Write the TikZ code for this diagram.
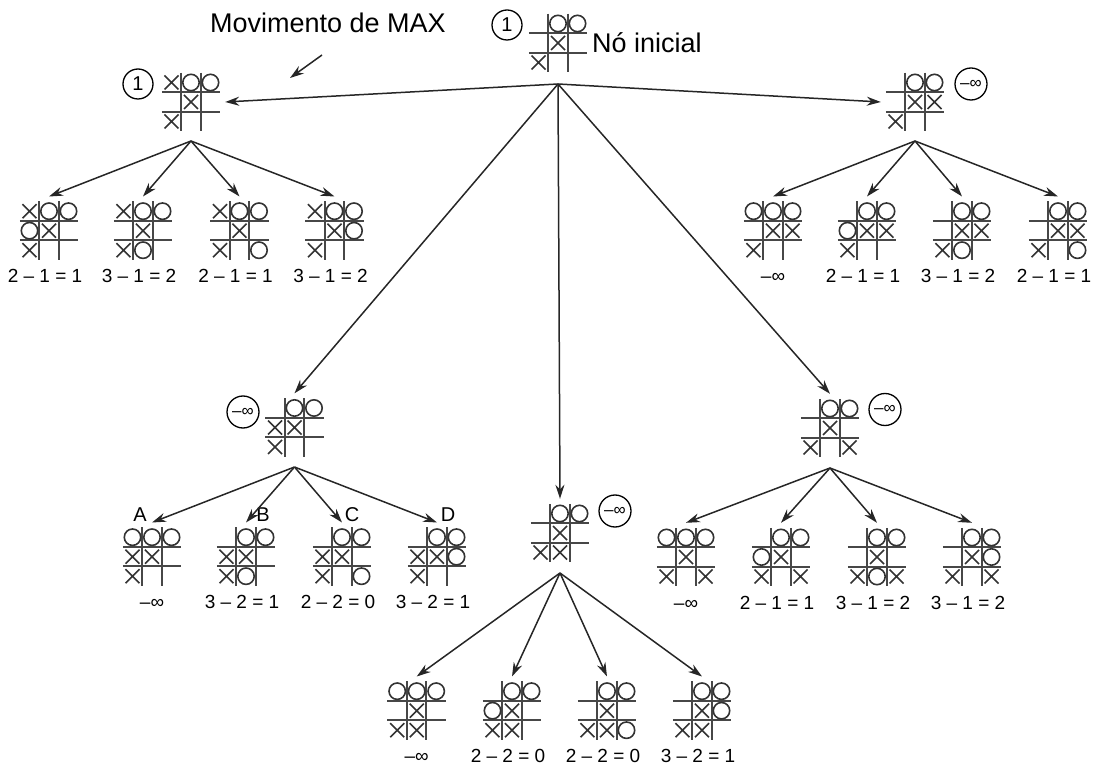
\documentclass[tikz,border=0pt]{standalone}
\usepackage{fontspec}
\setmainfont{Liberation Sans}
\usetikzlibrary{arrows.meta}
\newlength{\du}
\setlength{\du}{1pt}
\tikzset{
  casa/.style={rectangle,minimum width=68\du,minimum height=68\du,inner sep=0pt},
  grade/.style={line width=2\du,black!72},
  marca/.style={line width=1.6\du,black!80},
  seta/.style={line width=1.5\du,black!85,-{Stealth[length=14pt,width=9pt]}},
  valor/.style={circle,draw,line width=1.3\du,minimum size=30\du,inner sep=0pt,font=\fontsize{20}{22}\selectfont},
  infinito/.style={valor,minimum size=32\du,font=\fontsize{17}{19}\selectfont},
  rotulo/.style={anchor=base,inner sep=0pt,font=\fontsize{19}{21}\selectfont},
  letra/.style={inner sep=0pt,font=\fontsize{20}{22}\selectfont},
  titulo/.style={inner sep=0pt,font=\fontsize{27}{30}\selectfont},
  xis/.pic={\draw[marca] (-7\du,-7\du) -- (7\du,7\du) (-7\du,7\du) -- (7\du,-7\du);},
  bola/.pic={\draw[marca] (0,0) circle (8.2\du);}
}
% tabuleiro: nome, x, y, casas com X, casas com O
\newcommand{\jogo}[5]{%
  \node[casa] (#1) at (#2\du,#3\du) {};
  \begin{scope}[shift={(#2\du,#3\du)}]
  \draw[grade] (-29.25\du,-9.75\du) -- (29.25\du,-9.75\du);
  \draw[grade] (-29.25\du,9.75\du) -- (29.25\du,9.75\du);
  \draw[grade] (-9.75\du,-29.25\du) -- (-9.75\du,29.25\du);
  \draw[grade] (9.75\du,-29.25\du) -- (9.75\du,29.25\du);
  \foreach \r/\c in {#4} {\pic at ({(\c-2)*19.5\du},{(\r-2)*19.5\du}) {xis};}
  \foreach \r/\c in {#5} {\pic at ({(\c-2)*19.5\du},{(\r-2)*19.5\du}) {bola};}
  \end{scope}
}

\begin{document}
\begin{tikzpicture}
\pgftransformxscale{1.000000}
\pgftransformyscale{-1.000000}
\useasboundingbox (0\du,0\du) rectangle (1098\du,767\du);
% raiz
\jogo{raiz}{558}{43}{2/2,3/1}{1/2,1/3}
\node[valor] (v-raiz) at (507\du,25\du) {1};
\node[titulo,anchor=west] (ini) at (592\du,43\du) {Nó inicial};
\node[titulo] (mov) at (328\du,22.5\du) {Movimento de MAX};
\coordinate (mov-a) at (322\du,55\du);
\coordinate (mov-b) at (290\du,78\du);
\draw[seta] (mov-a) -- (mov-b);
% primeiro nivel
\jogo{e}{191}{102}{1/1,2/2,3/1}{1/2,1/3}
\node[valor] (v-e) at (138\du,84\du) {1};
\jogo{d}{915}{102}{2/2,2/3,3/1}{1/2,1/3}
\node[infinito] (v-d) at (971\du,84\du) {–∞};
\jogo{me}{294.5}{427.5}{2/1,2/2,3/1}{1/2,1/3}
\node[infinito] (v-me) at (243\du,412\du) {–∞};
\jogo{m}{560}{533}{2/2,3/1,3/2}{1/2,1/3}
\node[infinito] (v-m) at (615\du,511\du) {–∞};
\jogo{md}{830}{428}{2/2,3/1,3/3}{1/2,1/3}
\node[infinito] (v-md) at (885\du,409.5\du) {–∞};
\coordinate (raiz-o) at (558\du,84\du);
\coordinate (e-o) at (191\du,141\du);
\coordinate (d-o) at (915\du,141\du);
\coordinate (me-o) at (294.5\du,467\du);
\coordinate (m-o) at (560\du,573\du);
\coordinate (md-o) at (830\du,468\du);
\draw[seta] (raiz-o) -- (e.east);
\draw[seta] (raiz-o) -- (d.west);
\draw[seta] (raiz-o) -- (me.north);
\draw[seta] (raiz-o) -- (m.north);
\draw[seta] (raiz-o) -- (md.north);
% filhos de e
\jogo{e1}{49}{230.7}{1/1,2/2,3/1}{1/2,1/3,2/1}
\jogo{e2}{143}{230.7}{1/1,2/2,3/1}{1/2,1/3,3/2}
\jogo{e3}{239.5}{230.7}{1/1,2/2,3/1}{1/2,1/3,3/3}
\jogo{e4}{334.5}{230.7}{1/1,2/2,3/1}{1/2,1/3,2/3}
\node[rotulo] (r-e1) at (45\du,282.7\du) {2 – 1 = 1};
\node[rotulo] (r-e2) at (139\du,282.7\du) {3 – 1 = 2};
\node[rotulo] (r-e3) at (235.5\du,282.7\du) {2 – 1 = 1};
\node[rotulo] (r-e4) at (330.5\du,282.7\du) {3 – 1 = 2};
% filhos de d
\jogo{d1}{773}{230.7}{2/2,2/3,3/1}{1/1,1/2,1/3}
\jogo{d2}{867}{230.7}{2/2,2/3,3/1}{1/2,1/3,2/1}
\jogo{d3}{962}{230.7}{2/2,2/3,3/1}{1/2,1/3,3/2}
\jogo{d4}{1058}{230.7}{2/2,2/3,3/1}{1/2,1/3,3/3}
\node[rotulo] (r-d1) at (773\du,282.7\du) {–∞};
\node[rotulo] (r-d2) at (863\du,282.7\du) {2 – 1 = 1};
\node[rotulo] (r-d3) at (958\du,282.7\du) {3 – 1 = 2};
\node[rotulo] (r-d4) at (1054\du,282.7\du) {2 – 1 = 1};
% filhos de me
\jogo{me1}{152}{556.7}{2/1,2/2,3/1}{1/1,1/2,1/3}
\jogo{me2}{246}{556.7}{2/1,2/2,3/1}{1/2,1/3,3/2}
\jogo{me3}{342}{556.7}{2/1,2/2,3/1}{1/2,1/3,3/3}
\jogo{me4}{437}{556.7}{2/1,2/2,3/1}{1/2,1/3,2/3}
\node[rotulo] (r-me1) at (152\du,608.7\du) {–∞};
\node[rotulo] (r-me2) at (242\du,608.7\du) {3 – 2 = 1};
\node[rotulo] (r-me3) at (338\du,608.7\du) {2 – 2 = 0};
\node[rotulo] (r-me4) at (433\du,608.7\du) {3 – 2 = 1};
\node[letra] (la) at (140\du,515\du) {A};
\node[letra] (lb) at (263\du,515\du) {B};
\node[letra] (lc) at (352\du,515\du) {C};
\node[letra] (ld) at (448\du,515\du) {D};
% filhos de m
\jogo{m1}{416.7}{710.7}{2/2,3/1,3/2}{1/1,1/2,1/3}
\jogo{m2}{512}{710.7}{2/2,3/1,3/2}{1/2,1/3,2/1}
\jogo{m3}{607}{710.7}{2/2,3/1,3/2}{1/2,1/3,3/3}
\jogo{m4}{702}{710.7}{2/2,3/1,3/2}{1/2,1/3,2/3}
\node[rotulo] (r-m1) at (416.7\du,762.7\du) {–∞};
\node[rotulo] (r-m2) at (508\du,762.7\du) {2 – 2 = 0};
\node[rotulo] (r-m3) at (603\du,762.7\du) {2 – 2 = 0};
\node[rotulo] (r-m4) at (698\du,762.7\du) {3 – 2 = 1};
% filhos de md
\jogo{md1}{686}{557}{2/2,3/1,3/3}{1/1,1/2,1/3}
\jogo{md2}{781}{557}{2/2,3/1,3/3}{1/2,1/3,2/1}
\jogo{md3}{877}{557}{2/2,3/1,3/3}{1/2,1/3,3/2}
\jogo{md4}{972}{557}{2/2,3/1,3/3}{1/2,1/3,2/3}
\node[rotulo] (r-md1) at (686\du,609\du) {–∞};
\node[rotulo] (r-md2) at (777\du,609\du) {2 – 1 = 1};
\node[rotulo] (r-md3) at (873\du,609\du) {3 – 1 = 2};
\node[rotulo] (r-md4) at (968\du,609\du) {3 – 1 = 2};
\foreach \k in {1,...,4} {
  \draw[seta] (e-o) -- (e\k.north);
  \draw[seta] (d-o) -- (d\k.north);
  \draw[seta] (me-o) -- (me\k.north);
  \draw[seta] (m-o) -- (m\k.north);
  \draw[seta] (md-o) -- (md\k.north);
}
\end{tikzpicture}
\end{document}
